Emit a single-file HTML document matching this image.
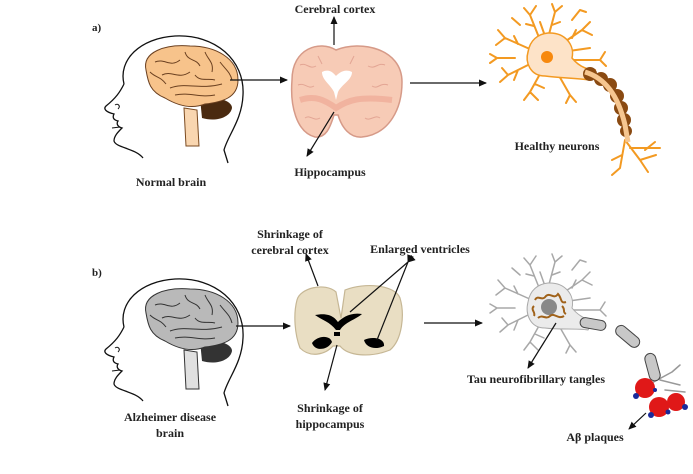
<!DOCTYPE html>
<html><head><meta charset="utf-8"><style>
html,body{margin:0;padding:0;background:#fff;}
svg{display:block;}
text{font-family:"Liberation Serif",serif;font-weight:bold;font-size:12px;fill:#222;}
</style></head><body>
<svg width="693" height="474" viewBox="0 0 693 474" xmlns="http://www.w3.org/2000/svg">
<defs>
<marker id="ah" markerWidth="8" markerHeight="8" refX="7" refY="4" orient="auto" markerUnits="userSpaceOnUse">
<path d="M0,0.5 L8,4 L0,7.5 Z" fill="#111"/></marker>
<g id="head">
<path d="M124,84 C118,60 140,38 175,36 C215,34 245,60 243,95 C242,120 228,135 224,150 L228,163" fill="none" stroke="#111" stroke-width="1.3"/>
<path d="M124,84 C120,92 116,98 106,106 C103,109 106,112 114,114 C112,118 114,120 118,121 C116,124 118,127 122,128 C118,132 114,136 114,141 C116,148 135,148 143,158" fill="none" stroke="#111" stroke-width="1.3"/>
<path d="M115,105 C118,103 121,106 118,109" fill="none" stroke="#111" stroke-width="1"/>
<path d="M112,128 L120,127" stroke="#111" stroke-width="1"/>
</g>
<g id="dend">
<path d="M540,40 L530,15 M530,15 L524,8 M530,15 L536,6 M534,26 L526,24 M548,38 L555,12 M555,12 L552,4 M555,12 L562,6 M552,25 L560,22 M560,45 L582,30 M582,30 L590,22 M582,30 L592,35 M572,38 L576,30 M532,50 L505,38 M505,38 L498,30 M505,38 L496,45 M518,44 L514,36 M530,64 L508,75 M508,75 L500,82 M508,75 L502,68 M518,70 L514,80 M540,74 L530,92 M530,92 L524,100 M530,92 L538,100 M535,84 L544,88 M558,74 L570,95 M570,95 L576,102 M570,95 L566,103 M520,25 L512,18 M572,20 L580,10 M580,10 L586,12 M515,58 L497,58 M497,58 L490,54 M497,58 L490,63 M565,60 L600,60 M600,60 L605,52 M600,60 L606,66 M545,36 L540,22 M562,52 L590,48"/>
</g>
</defs>

<!-- Panel a -->
<text x="92" y="31" style="font-size:11px">a)</text>
<use href="#head"/>
<path d="M184,108 L186,146 L199,146 L197,110 Z" fill="#f9d6b0" stroke="#7a4a20" stroke-width="1"/>
<path d="M200,98 C215,96 232,100 232,108 C230,118 215,122 202,118 Z" fill="#4a2a10"/>
<path d="M146,70 C142,52 165,44 190,46 C215,46 238,58 238,80 C238,98 222,102 205,104 C190,110 175,104 165,98 C150,92 148,82 146,70 Z" fill="#f7c38b" stroke="#6b4020" stroke-width="1"/>
<g fill="none" stroke="#6b4020" stroke-width="1">
<path d="M155,62 C165,58 170,68 180,60 M162,75 C172,70 178,80 190,72 M185,52 C188,62 196,58 200,66 M205,52 C208,60 214,62 212,72 M170,88 C185,82 200,90 222,84 M175,95 C190,92 200,98 215,95 M220,62 C226,70 230,72 232,80 M195,75 C200,82 208,78 215,80 M150,72 C156,78 160,76 166,84"/>
</g>
<line x1="230" y1="80" x2="287" y2="80" stroke="#111" stroke-width="1.2" marker-end="url(#ah)"/>
<!-- coronal slice -->
<path d="M336,50 C320,40 292,48 292,80 C290,105 296,132 315,137 C326,138 330,128 334,115 L338,115 C342,128 350,138 362,137 C390,134 402,108 402,82 C402,48 360,40 336,50 Z" fill="#f7cbb6" stroke="#d69a88" stroke-width="1.5"/>
<path d="M300,100 C315,95 325,100 336,108 C348,100 360,96 392,100" fill="none" stroke="#eea896" stroke-width="6" opacity="0.7"/>
<g fill="none" stroke="#e3a594" stroke-width="1">
<path d="M300,65 C306,62 310,70 316,66 M298,85 C305,82 308,90 314,86 M385,65 C378,62 375,70 368,66 M388,85 C380,82 378,90 372,86 M305,118 C310,114 314,122 320,118 M380,118 C375,114 370,122 365,118 M318,56 L322,64 M354,56 L350,64"/>
</g>
<path d="M322,72 C330,68 334,74 336,76 C338,74 344,68 352,72 C352,80 342,84 338,92 L336,100 L334,92 C330,84 322,80 322,72 Z" fill="#fff"/>
<line x1="334" y1="45" x2="334" y2="17" stroke="#111" stroke-width="1.2" marker-end="url(#ah)"/>
<text x="335" y="13" text-anchor="middle">Cerebral cortex</text>
<line x1="334" y1="112" x2="307" y2="156" stroke="#111" stroke-width="1.2" marker-end="url(#ah)"/>
<text x="330" y="176" text-anchor="middle">Hippocampus</text>
<text x="171" y="186" text-anchor="middle">Normal brain</text>
<line x1="410" y1="83" x2="486" y2="83" stroke="#111" stroke-width="1.2" marker-end="url(#ah)"/>
<!-- healthy neuron -->
<use href="#dend" stroke="#f39a22" stroke-width="2" fill="none" stroke-linecap="round"/>
<g stroke="#f39a22" stroke-width="2" fill="none" stroke-linecap="round">
<path d="M625,140 L620,168 M625,140 L640,160 M640,160 L656,155 M640,160 L648,172 M630,148 L660,148 M620,168 L612,175 M622,155 L612,160 M645,150 L655,142"/>
</g>
<path d="M548,33 C565,32 575,45 572,58 C580,68 590,70 595,70 L590,80 C575,78 560,78 545,76 C530,76 525,62 528,52 C530,40 538,34 548,33 Z" fill="#fde3c8" stroke="#f39a22" stroke-width="1.5"/>
<circle cx="547" cy="57" r="6" fill="#f7890e"/>
<g fill="#8a4a12">
<circle cx="590" cy="74" r="7"/><circle cx="601" cy="79" r="7"/><circle cx="610" cy="85" r="7"/><circle cx="617" cy="96" r="7"/><circle cx="621" cy="108" r="7"/><circle cx="624" cy="120" r="7"/><circle cx="626" cy="131" r="6"/>
</g>
<path d="M585,72 C605,78 618,95 625,125 L628,142" fill="none" stroke="#f6c690" stroke-width="5"/>
<text x="557" y="150" text-anchor="middle">Healthy neurons</text>

<!-- Panel b -->
<text x="92" y="276" style="font-size:11px">b)</text>
<use href="#head" transform="translate(0,243)"/>
<path d="M184,350 L186,389 L199,389 L197,352 Z" fill="#e0e0e0" stroke="#333" stroke-width="1"/>
<path d="M200,341 C215,339 232,343 232,351 C230,361 215,365 202,361 Z" fill="#333"/>
<path d="M146,313 C142,295 165,287 190,289 C215,289 238,301 238,323 C238,341 222,345 205,347 C190,353 175,347 165,341 C150,335 148,325 146,313 Z" fill="#b9b9b9" stroke="#333" stroke-width="1"/>
<g fill="none" stroke="#333" stroke-width="1">
<path d="M155,305 C165,301 170,311 180,303 M162,318 C172,313 178,323 190,315 M185,295 C188,305 196,301 200,309 M205,295 C208,303 214,305 212,315 M170,331 C185,325 200,333 222,327 M175,338 C190,335 200,341 215,338 M220,305 C226,313 230,315 232,323 M195,318 C200,325 208,321 215,323 M150,315 C156,321 160,319 166,327"/>
</g>
<line x1="236" y1="326" x2="290" y2="326" stroke="#111" stroke-width="1.2" marker-end="url(#ah)"/>
<path d="M336,292 C325,282 300,288 297,300 C293,315 295,335 300,348 C310,358 325,355 333,346 L340,346 C348,356 370,358 390,350 C402,340 405,315 400,298 C395,285 365,282 345,290 L341,318 Z" fill="#e9dec3" stroke="#c6b795" stroke-width="1.2"/>
<path d="M315,315 C330,312 335,318 338,322 C342,318 350,312 362,314 C355,320 345,322 340,330 L336,330 C330,322 322,320 315,315 Z" fill="#000"/>
<rect x="334" y="332" width="6" height="4" fill="#000"/>
<path d="M312,343 C318,335 330,335 332,342 C328,350 315,352 312,343 Z" fill="#000"/>
<path d="M364,340 C372,336 385,338 384,346 C376,350 366,348 364,340 Z" fill="#000"/>
<line x1="318" y1="286" x2="306" y2="254" stroke="#111" stroke-width="1.2" marker-end="url(#ah)"/>
<text x="290" y="238" text-anchor="middle">Shrinkage of</text>
<text x="290" y="254" text-anchor="middle">cerebral cortex</text>
<line x1="408" y1="262" x2="350" y2="312" stroke="#111" stroke-width="1.2" marker-start="url(#ah)"/>
<line x1="408" y1="262" x2="377" y2="340" stroke="#111" stroke-width="1.2" marker-start="url(#ah)"/>
<text x="420" y="253" text-anchor="middle">Enlarged ventricles</text>
<line x1="337" y1="345" x2="325" y2="390" stroke="#111" stroke-width="1.2" marker-end="url(#ah)"/>
<text x="330" y="412" text-anchor="middle">Shrinkage of</text>
<text x="330" y="428" text-anchor="middle">hippocampus</text>
<text x="170" y="421" text-anchor="middle">Alzheimer disease</text>
<text x="170" y="437" text-anchor="middle">brain</text>
<line x1="424" y1="323" x2="482" y2="323" stroke="#111" stroke-width="1.2" marker-end="url(#ah)"/>
<!-- AD neuron -->
<use href="#dend" transform="translate(0,250)" stroke="#a8a8a8" stroke-width="1.5" fill="none" stroke-linecap="round"/>
<g stroke="#999" stroke-width="1.5" fill="none" stroke-linecap="round">
<path d="M648,385 L672,372 M660,380 L680,385 M672,372 L680,365 M665,390 L685,392"/>
</g>
<path d="M548,283 C565,282 575,295 572,308 C580,318 590,320 592,322 L588,330 C575,328 560,330 545,328 C530,328 525,314 528,302 C530,290 538,284 548,283 Z" fill="#ebebeb" stroke="#aaa" stroke-width="1"/>
<circle cx="549" cy="307" r="8" fill="#888"/>
<g stroke="#a0621a" stroke-width="2" fill="none">
<path d="M535,300 C538,294 542,302 546,296 C550,292 554,300 558,294 C562,298 560,304 566,302"/>
<path d="M538,318 C542,314 546,320 550,316 C554,312 558,320 564,316"/>
<path d="M534,306 C530,310 536,312 534,316 M562,306 C566,310 562,312 566,314"/>
</g>
<g fill="#c8c8c8" stroke="#444" stroke-width="1">
<rect x="580" y="319" width="26" height="10" rx="5" transform="rotate(10 593 324)"/>
<rect x="614" y="331" width="28" height="11" rx="5.5" transform="rotate(40 628 336)"/>
<rect x="639" y="362" width="28" height="11" rx="5.5" transform="rotate(75 653 367)"/>
</g>
<g fill="#e01818">
<circle cx="645" cy="388" r="10"/><circle cx="659" cy="407" r="10"/><circle cx="676" cy="402" r="9"/>
</g>
<g fill="#1a2a9a"><circle cx="636" cy="396" r="3"/><circle cx="651" cy="415" r="3"/><circle cx="685" cy="407" r="3"/><circle cx="668" cy="412" r="2.5"/><circle cx="655" cy="390" r="2"/></g>
<line x1="556" y1="323" x2="528" y2="368" stroke="#111" stroke-width="1.2" marker-end="url(#ah)"/>
<text x="536" y="383" text-anchor="middle">Tau neurofibrillary tangles</text>
<line x1="646" y1="413" x2="629" y2="429" stroke="#111" stroke-width="1.2" marker-end="url(#ah)"/>
<text x="595" y="441" text-anchor="middle">Aβ plaques</text>
</svg>
</body></html>
